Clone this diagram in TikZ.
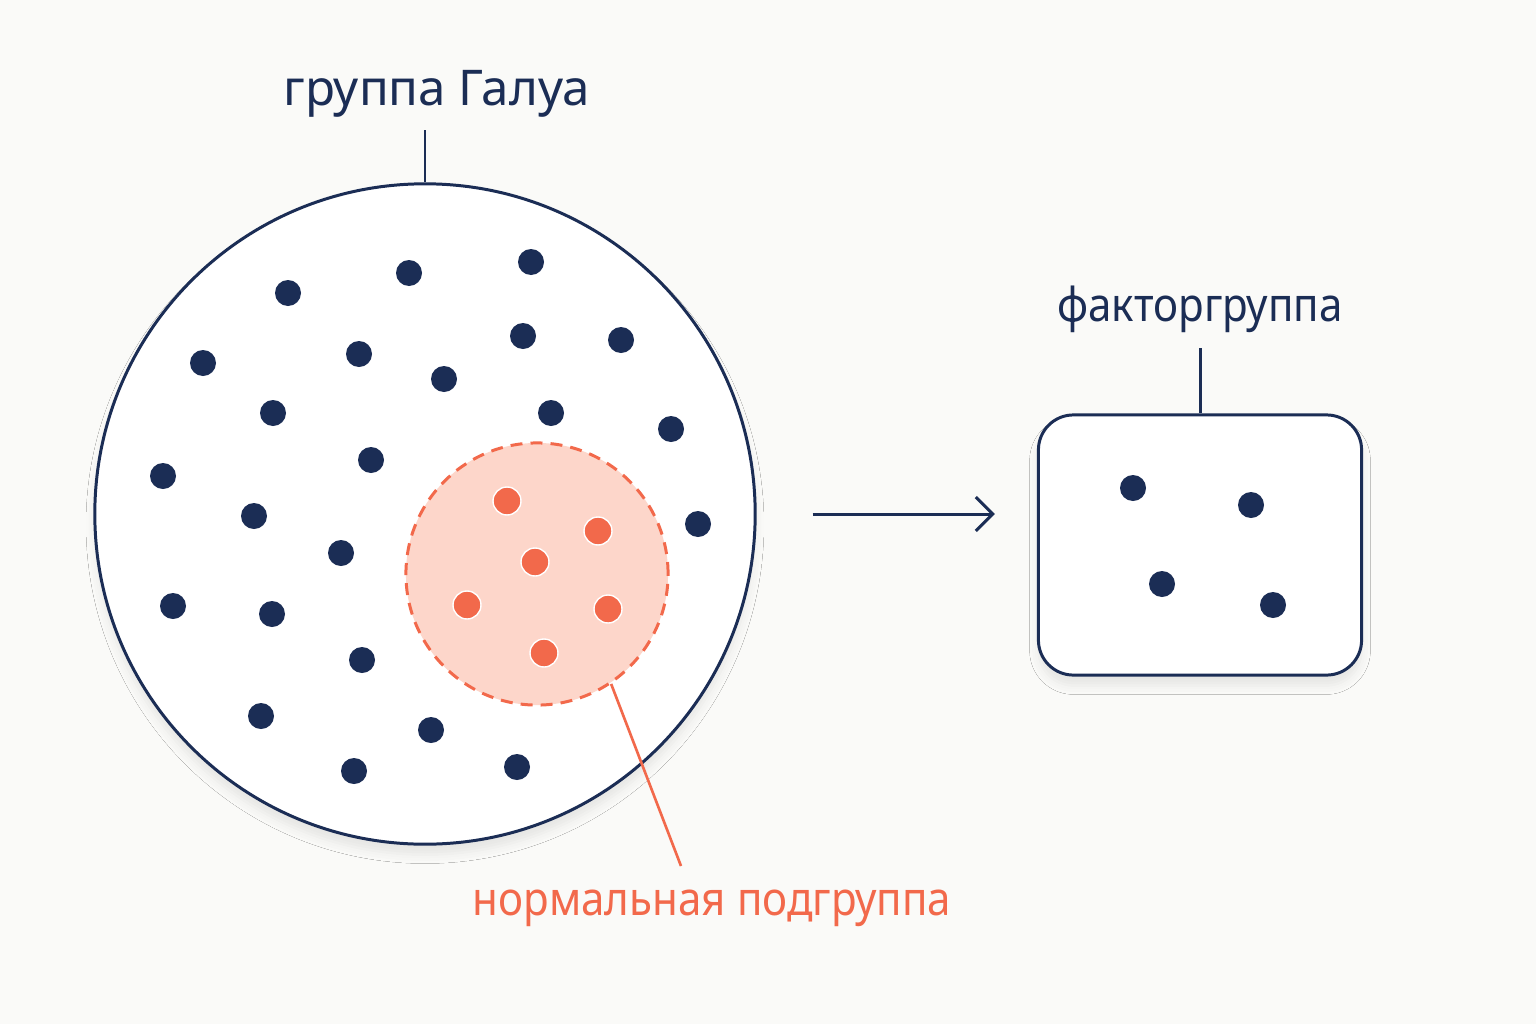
\documentclass[tikz,border=0pt]{standalone}
\usepackage{fontspec}
\setmainfont{Noto Sans}
\newfontfamily\narrowfont[FakeStretch=0.9]{Noto Sans}
\usetikzlibrary{positioning,arrows.meta,shadows.blur}
\definecolor{navy}{HTML}{1B2D55}
\definecolor{coral}{HTML}{F2694B}
\definecolor{blush}{HTML}{FDD6CA}
\definecolor{paper}{HTML}{FAFAF8}

\begin{document}
\begin{tikzpicture}[x=0.01cm, y=-0.01cm, line width=0.85pt,
		lbl/.style={font=\fontsize{14}{16}\selectfont, text=navy},
		nlbl/.style={font=\narrowfont\fontsize{13.3}{16}\selectfont, text=navy},
		softshadow/.style={blur shadow={shadow xshift=0pt, shadow yshift=-3pt, shadow blur radius=2.5pt, shadow opacity=8}}]
		\fill[paper] (0,0) rectangle (1536,1024);
		\useasboundingbox (0,0) rectangle (1536,1024);
		% Galois group
		\node[circle, draw=navy, fill=white, minimum size=6.6cm, inner sep=0pt, softshadow] (G) at (425,514) {};
		\foreach \x/\y in {288/293, 409/273, 531/262, 203/363, 359/354, 523/336, 621/340, 444/379,
			273/413, 551/413, 671/429, 163/476, 371/460, 254/516, 698/524, 341/553, 173/606,
			272/614, 362/660, 261/716, 431/730, 354/771, 517/767}
			\fill[navy] (\x,\y) circle (13);
		\node[lbl] (lblG) at (437,94) {группа Галуа};
		\coordinate (gtick) at (G.north |- 0,130);
		\draw[navy] (gtick) -- (G.north);
		% normal subgroup
		\node[circle, draw=coral, fill=blush, line width=0.85pt, dash pattern=on 3.4pt off 2.3pt,
			minimum size=2.62cm, inner sep=0pt] (N) at (537,574) {};
		\foreach \x/\y in {507/501, 598/531, 535/562, 467/605, 608/609, 544/653}
			\filldraw[fill=coral, draw=white, line width=0.4pt] (\x,\y) circle (14);
		\node[nlbl, text=coral] (lblN) at (712,908) {нормальная подгруппа};
		\coordinate (ntip) at (681,866);
		\draw[coral, line width=0.75pt] (N.-56) -- (ntip);
		% quotient group
		\node[draw=navy, fill=white, rounded corners=0.35cm, minimum width=3.23cm, minimum height=2.6cm,
			softshadow] (Q) at (1200,545) {};
		\foreach \x/\y in {1133/488, 1251/505, 1162/584, 1273/605}
			\fill[navy] (\x,\y) circle (13);
		\node[nlbl] (lblQ) at (1200,309) {факторгруппа};
		\coordinate (qtick) at (Q.north |- 0,348);
		\draw[navy] (qtick) -- (Q.north);
		\draw[navy, -{Straight Barb[length=0.17cm, width=0.34cm]}, shorten <=0.56cm, shorten >=0.42cm]
			(G.east) -- (G.east -| Q.west);
	\end{tikzpicture}
\end{document}
